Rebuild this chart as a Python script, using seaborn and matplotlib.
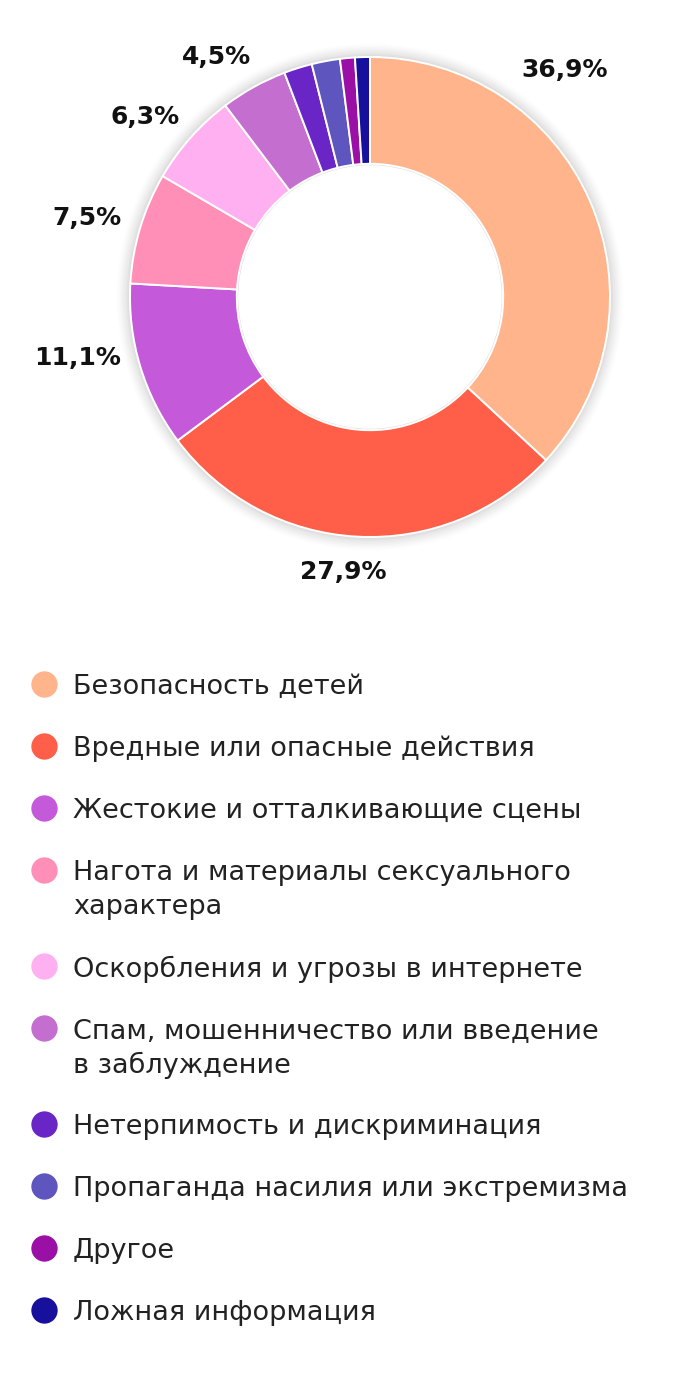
import numpy as np
import matplotlib
matplotlib.use("Agg")
import matplotlib.pyplot as plt
import seaborn as sns

sns.set_theme(style="white")
plt.rcParams['font.family'] = ['DejaVu Sans']

categories = [
    "Безопасность детей",
    "Вредные или опасные действия",
    "Жестокие и отталкивающие сцены",
    "Нагота и материалы сексуального\nхарактера",
    "Оскорбления и угрозы в интернете",
    "Спам, мошенничество или введение\nв заблуждение",
    "Нетерпимость и дискриминация",
    "Пропаганда насилия или экстремизма",
    "Другое",
    "Ложная информация",
]
values = [36.9, 27.9, 11.1, 7.5, 6.3, 4.5, 1.9, 1.9, 1.0, 1.0]
pct_labels = ["36,9%", "27,9%", "11,1%", "7,5%", "6,3%", "4,5%", "", "", "", ""]
colors = ["#FFB48C", "#FF5F48", "#C45AD9", "#FF8FB6", "#FFB0F0",
          "#C46ED0", "#6A25C6", "#5E55BF", "#9A10A6", "#16109C"]

W, H = 680, 1383
fig = plt.figure(figsize=(W / 100, H / 100), dpi=100)

# donut axes: center (370, 297) px, radius 240 px
R_px = 240
half = 300
lim = half / R_px
ax = fig.add_axes([(370 - half) / W, (H - 297 - half) / H, 2 * half / W, 2 * half / H])
ax.set_xlim(-lim, lim)
ax.set_ylim(-lim, lim)
ax.set_aspect("equal")
ax.axis("off")

# soft shadow
for i, a in enumerate(np.linspace(0.06, 0.012, 8)):
    ring = plt.Circle((0, 0), 1.0 + 0.007 * (i + 1), color="#888888", alpha=a, lw=0)
    ax.add_patch(ring)

wedges, _ = ax.pie(values, colors=colors, startangle=90, counterclock=False,
                   radius=1.0, wedgeprops=dict(width=0.445, edgecolor="white", linewidth=1.4))
ax.add_patch(plt.Circle((0, 0), 0.555 - 0.006, color="white", lw=0, zorder=3))

# label placement (angle in degrees, radius relative to donut radius)
label_angle = {0: 49.3, 1: -95.6, 2: 191.8, 3: 164.4, 4: 141.3, 5: 122.6}
label_radius = {0: 1.245, 1: 1.15, 2: 1.245, 3: 1.225, 4: 1.2, 5: 1.185}
for i, (w, lab) in enumerate(zip(wedges, pct_labels)):
    if not lab:
        continue
    ang = label_angle.get(i, (w.theta1 + w.theta2) / 2)
    r = label_radius.get(i, 1.22)
    ax.text(r * np.cos(np.radians(ang)), r * np.sin(np.radians(ang)), lab,
            ha="center", va="center", fontsize=18, fontweight="bold", color="#111111")

# legend drawn in pixel coordinates
lax = fig.add_axes([0, 0, 1, 1])
lax.set_xlim(0, W)
lax.set_ylim(H, 0)
lax.axis("off")
y = 684
for cat, col in zip(categories, colors):
    lax.scatter([44], [y], s=360, color=col, lw=0)
    lines = cat.split("\n")
    for k, line in enumerate(lines):
        lax.text(73, y + 34 * k, line, ha="left", va="center_baseline", fontsize=19.5,
                 color="#222222")
    y += 62 + 34 * (len(lines) - 1)

fig.savefig("out.png", dpi=100, facecolor="white")
